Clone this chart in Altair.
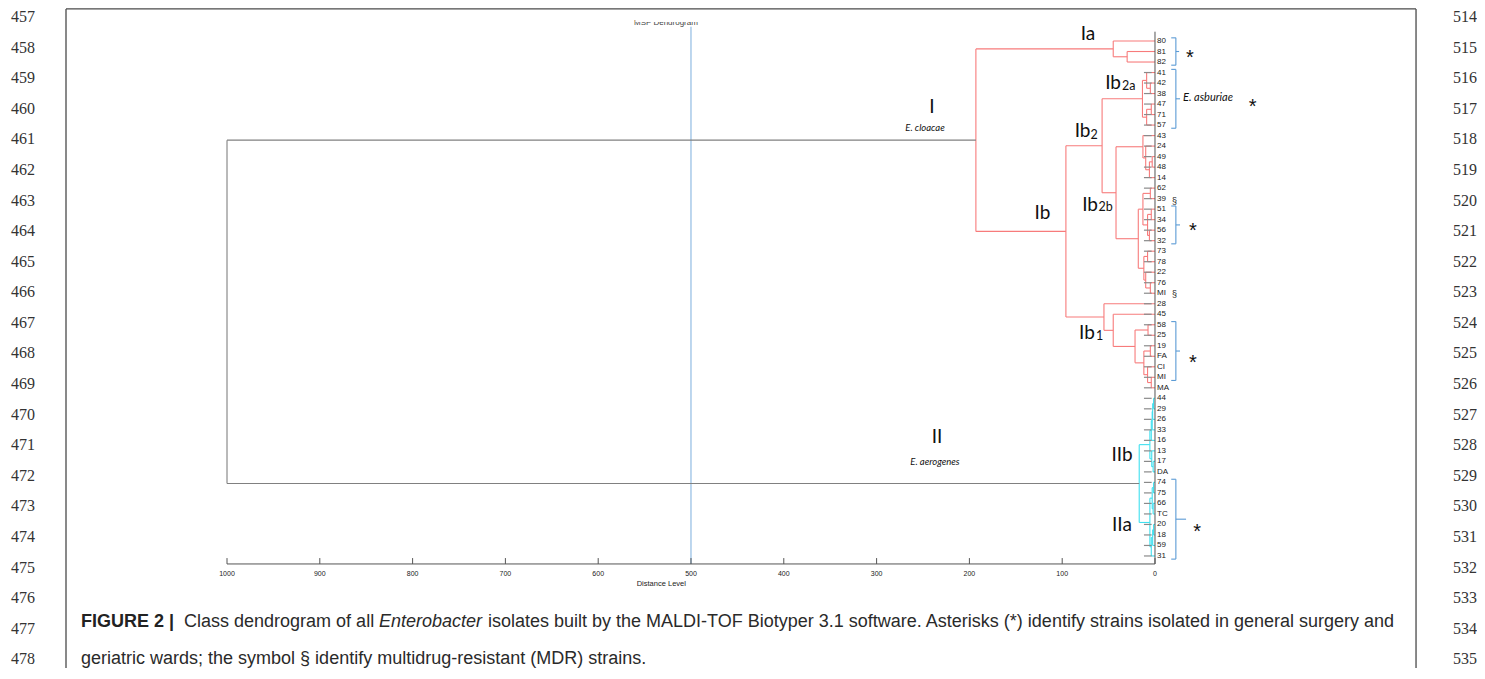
import altair as alt
import pandas as pd

# ---------------- data ----------------
leaf_labels = ["80", "81", "82", "41", "42", "38", "47", "71", "57", "43", "24", "49", "48", "14",
               "62", "39", "51", "34", "56", "32", "73", "78", "22", "76", "MI", "28", "45", "58",
               "25", "19", "FA", "CI", "MI", "MA", "44", "29", "26", "33", "16", "13", "17", "DA",
               "74", "75", "66", "TC", "20", "18", "59", "31"]

# dendrogram nodes: [distance level, left child, right child]; integers are leaf rows
cluster_Ia = [45, 0, [30, 1, 2]]
cluster_Ib2a = [13.5, [9, 3, [5, 4, 5]], [9, [4, 6, 7], 8]]
cluster_Ib2b = [42, [13, 9, [10, 10, [6, [3, 11, 12], 13]]],
                [18, [13, [5, 14, 15], [8, [4, 16, 17], [6, 18, 19]]],
                 [12, [8, 20, 21], [10, 22, [5, 23, 24]]]]]
cluster_Ib1 = [55, 25, [45, 26, [21.5, [7.5, 27, 28], [12, [5, 29, 30], [8, 31, [4, 32, 33]]]]]]
cluster_Ib = [96, [57, cluster_Ib2a, cluster_Ib2b], cluster_Ib1]
cluster_I = [193, cluster_Ia, cluster_Ib]
cluster_IIb = [5.5, [4, [3, [2.5, [1.5, 34, 35], 36], 37], 38], [3.5, 39, [2, 40, 41]]]
cluster_IIa = [5.5, [3, [1.5, 42, 43], [2, 44, 45]], [4, [2.5, [1.5, 46, 47], 48], 49]]
cluster_II = [17, cluster_IIb, cluster_IIa]
root_level = 1000
cutoff_level = 500

gray_tick_leaves = list(range(3, 50))

axis_ticks = [1000, 900, 800, 700, 600, 500, 400, 300, 200, 100, 0]

# brackets: first leaf, last leaf, end of middle tick (distance level)
bracket_first = [0, 3, 16, 27, 42]
bracket_last = [2, 8, 19, 32, 49]
bracket_tip = [-26, -27, -27, -27, -33.5]

line_numbers_left = list(range(457, 479))
line_numbers_right = list(range(514, 536))

caption_line1 = ["FIGURE 2 |", "Class dendrogram of all", "Enterobacter",
                 "isolates built by the MALDI-TOF Biotyper 3.1 software. Asterisks (*) identify strains isolated in general surgery and"]
caption_line2 = "geriatric wards; the symbol § identify multidrug-resistant (MDR) strains."

RED = "#f77b7b"
CYAN = "#3fe0ef"
GRAY = "#808080"
BLUE = "#5b9bd5"

# ---------------- scales ----------------
W, H = 1469, 660
XS = alt.Scale(domain=[-347, 1236], reverse=True, nice=False, zero=False)
YS = alt.Scale(domain=[-3.14, 59.66], reverse=True, nice=False, zero=False)


def rules(df, color, width=1.0, opacity=1.0):
    return alt.Chart(df).mark_rule(color=color, strokeWidth=width, opacity=opacity).encode(
        x=alt.X("x:Q", scale=XS, axis=None), x2="x2:Q",
        y=alt.Y("y:Q", scale=YS, axis=None), y2="y2:Q")


def texts(df, **kw):
    return alt.Chart(df).mark_text(**kw).encode(
        x=alt.X("x:Q", scale=XS, axis=None), y=alt.Y("y:Q", scale=YS, axis=None), text="t:N")


# ---------------- dendrogram segments ----------------
segs = []


def layout(node, color):
    if isinstance(node, int):
        return 0.0, float(node)
    h, left, right = node
    hl, yl = layout(left, color)
    hr, yr = layout(right, color)
    segs.append(dict(x=h, x2=h, y=yl, y2=yr, c=color))
    segs.append(dict(x=h, x2=hl, y=yl, y2=yl, c=color))
    segs.append(dict(x=h, x2=hr, y=yr, y2=yr, c=color))
    return h, (yl + yr) / 2


hI, yI = layout(cluster_I, RED)
hII, yII = layout(cluster_II, CYAN)
segs.append(dict(x=root_level, x2=root_level, y=yI, y2=yII, c=GRAY))
segs.append(dict(x=root_level, x2=hI, y=yI, y2=yI, c=GRAY))
segs.append(dict(x=root_level, x2=hII, y=yII, y2=yII, c=GRAY))
seg_df = pd.DataFrame(segs)

tree = alt.Chart(seg_df).mark_rule(strokeWidth=1.1).encode(
    x=alt.X("x:Q", scale=XS, axis=None), x2="x2:Q",
    y=alt.Y("y:Q", scale=YS, axis=None), y2="y2:Q",
    color=alt.Color("c:N", scale=None))

ticks_df = pd.DataFrame({"x": [11.9] * len(gray_tick_leaves), "x2": [3.6] * len(gray_tick_leaves),
                         "y": gray_tick_leaves, "y2": gray_tick_leaves})
leaf_ticks = rules(ticks_df, "#8a8a8a", 1.2)

# axes
xaxis_line = rules(pd.DataFrame({"x": [axis_ticks[0]], "x2": [axis_ticks[-1]], "y": [49.76], "y2": [49.76]}), "#555555", 1)
xaxis_ticks = rules(pd.DataFrame({"x": axis_ticks, "x2": axis_ticks, "y": [49.2] * len(axis_ticks),
                                  "y2": [49.76] * len(axis_ticks)}), "#555555", 1)
yaxis_line = rules(pd.DataFrame({"x": [0], "x2": [0], "y": [-0.885], "y2": [49.76]}), "#555555", 1)
cutoff = rules(pd.DataFrame({"x": [cutoff_level], "x2": [cutoff_level], "y": [-1.36], "y2": [49.76]}), BLUE, 1, 0.8)

tick_labels = texts(pd.DataFrame({"x": axis_ticks, "y": [50.71] * len(axis_ticks), "t": [str(t) for t in axis_ticks]}),
                    font="Liberation Sans", fontSize=7, align="center", baseline="middle", color="#222")
axis_title = texts(pd.DataFrame({"x": [532], "y": [51.67], "t": ["Distance Level"]}),
                   font="Liberation Sans", fontSize=7.5, align="center", baseline="middle", color="#222")
msp_title = texts(pd.DataFrame({"x": [527], "y": [-1.475], "t": ["MSP Dendrogram"]}),
                  font="Liberation Sans", fontSize=8, align="center", baseline="alphabetic", color="#444")
msp_cover = alt.Chart(pd.DataFrame({"x": [560], "x2": [490], "y": [-2.9], "y2": [-1.81]})).mark_rect(
    color="white").encode(x=alt.X("x:Q", scale=XS, axis=None), x2="x2:Q",
                          y=alt.Y("y:Q", scale=YS, axis=None), y2="y2:Q")

# leaf labels
leaf_df = pd.DataFrame({"x": [-2.2] * len(leaf_labels), "y": list(range(len(leaf_labels))), "t": leaf_labels})
leaf_text = texts(leaf_df, font="Liberation Sans", fontSize=8, align="left", baseline="middle", color="#222")

# brackets
bsegs = []
for a, b, tip in zip(bracket_first, bracket_last, bracket_tip):
    top, bot = a - 0.3, b + 0.3
    bsegs += [dict(x=-22.5, x2=-22.5, y=top, y2=bot), dict(x=-17.5, x2=-22.5, y=top, y2=top),
              dict(x=-17.5, x2=-22.5, y=bot, y2=bot), dict(x=-22.5, x2=tip, y=(top + bot) / 2, y2=(top + bot) / 2)]
brackets = rules(pd.DataFrame(bsegs), BLUE, 1.1)

stars = texts(pd.DataFrame({"x": [-37.7, -105.3, -40.9, -40.9, -45.3], "y": [1.14, 5.78, 17.57, 30.16, 46.15],
                            "t": ["*"] * 5}),
              font="Liberation Sans", fontSize=20, align="center", baseline="middle", dy=5.5, color="#111")
sections = texts(pd.DataFrame({"x": [-21.0, -21.0], "y": [15.18, 24.07], "t": ["§", "§"]}),
                 font="Liberation Sans", fontSize=9, align="center", baseline="middle", color="#222")

# cluster labels
big_c = texts(pd.DataFrame({"x": [72.2, 121.2, 35.6, 35.6, 240.3, 234.9], "y": [-0.67, 16.32, 39.39, 46.05, 6.28, 37.68],
                            "t": ["Ia", "Ib", "IIb", "IIa", "I", "II"]}),
              font="Lato", fontSize=19, align="center", baseline="middle", color="#111")
big_r = texts(pd.DataFrame({"x": [36.6, 69.5, 61.4, 64.7], "y": [3.95, 8.52, 15.56, 27.78],
                            "t": ["Ib", "Ib", "Ib", "Ib"]}),
              font="Lato", fontSize=19, align="right", baseline="middle", color="#111")
subs = texts(pd.DataFrame({"x": [35.6, 69.5, 60.9, 63.6], "y": [4.28, 8.94, 15.79, 28.07],
                           "t": ["2a", "2", "2b", "1"]}),
             font="Lato", fontSize=12.5, align="left", baseline="middle", color="#111")
ital_c = texts(pd.DataFrame({"x": [247.8, 237.1], "y": [8.28, 40.06], "t": ["E. cloacae", "E. aerogenes"]}),
               font="Lato", fontSize=9.5, fontStyle="italic", align="center", baseline="middle", color="#111")
ital_l = texts(pd.DataFrame({"x": [-30.2], "y": [5.47], "t": ["E. asburiae"]}),
               font="Lato", fontSize=11, fontStyle="italic", align="left", baseline="middle", color="#111")

# page frame and line numbers
frame = rules(pd.DataFrame({"x": [1173.5, -281.3, 1173.5], "x2": [1173.5, -281.3, -281.3],
                            "y": [-3.05, -3.05, -3.05], "y2": [60, 60, -3.05]}), "#4a4a4a", 1.3)
ln_top, ln_step = -2.28, 2.91
ln_left = texts(pd.DataFrame({"x": [1219.8] * len(line_numbers_left),
                              "y": [ln_top + ln_step * k for k in range(len(line_numbers_left))],
                              "t": [str(n) for n in line_numbers_left]}),
                font="Liberation Serif", fontSize=16, align="center", baseline="middle", color="#333")
ln_right = texts(pd.DataFrame({"x": [-334.0] * len(line_numbers_right),
                               "y": [ln_top + ln_step * k for k in range(len(line_numbers_right))],
                               "t": [str(n) for n in line_numbers_right]}),
                 font="Liberation Serif", fontSize=16, align="center", baseline="middle", color="#333")

# caption
cap_x = [1157.3, 1046.3, 836.2, 718.75]
cap_y = [55.28, 58.85]
CAP_FS = 18
cap_bold = texts(pd.DataFrame({"x": [cap_x[0]], "y": [cap_y[0]], "t": [caption_line1[0]]}),
                 font="Liberation Sans", fontSize=CAP_FS, fontWeight="bold", align="left", baseline="middle", color="#222")
cap_reg = texts(pd.DataFrame({"x": [cap_x[1], cap_x[3], cap_x[0]], "y": [cap_y[0], cap_y[0], cap_y[1]],
                              "t": [caption_line1[1], caption_line1[3], caption_line2]}),
                font="Liberation Sans", fontSize=CAP_FS, align="left", baseline="middle", color="#2a2a2a")
cap_it = texts(pd.DataFrame({"x": [cap_x[2]], "y": [cap_y[0]], "t": [caption_line1[2]]}),
               font="Liberation Sans", fontSize=CAP_FS, fontStyle="italic", align="left", baseline="middle", color="#2a2a2a")

chart = alt.layer(
    frame, ln_left, ln_right,
    msp_title, msp_cover, cutoff,
    tree, leaf_ticks, xaxis_line, xaxis_ticks, yaxis_line,
    tick_labels, axis_title, leaf_text, brackets, stars, sections,
    big_c, big_r, subs, ital_c, ital_l,
    cap_bold, cap_reg, cap_it,
).properties(
    width=W, height=H, padding=0, autosize=alt.AutoSizeParams(type="none"), background="white"
).configure_view(stroke=None)

chart.save("out.html", embed_options={"renderer": "svg", "actions": False})
